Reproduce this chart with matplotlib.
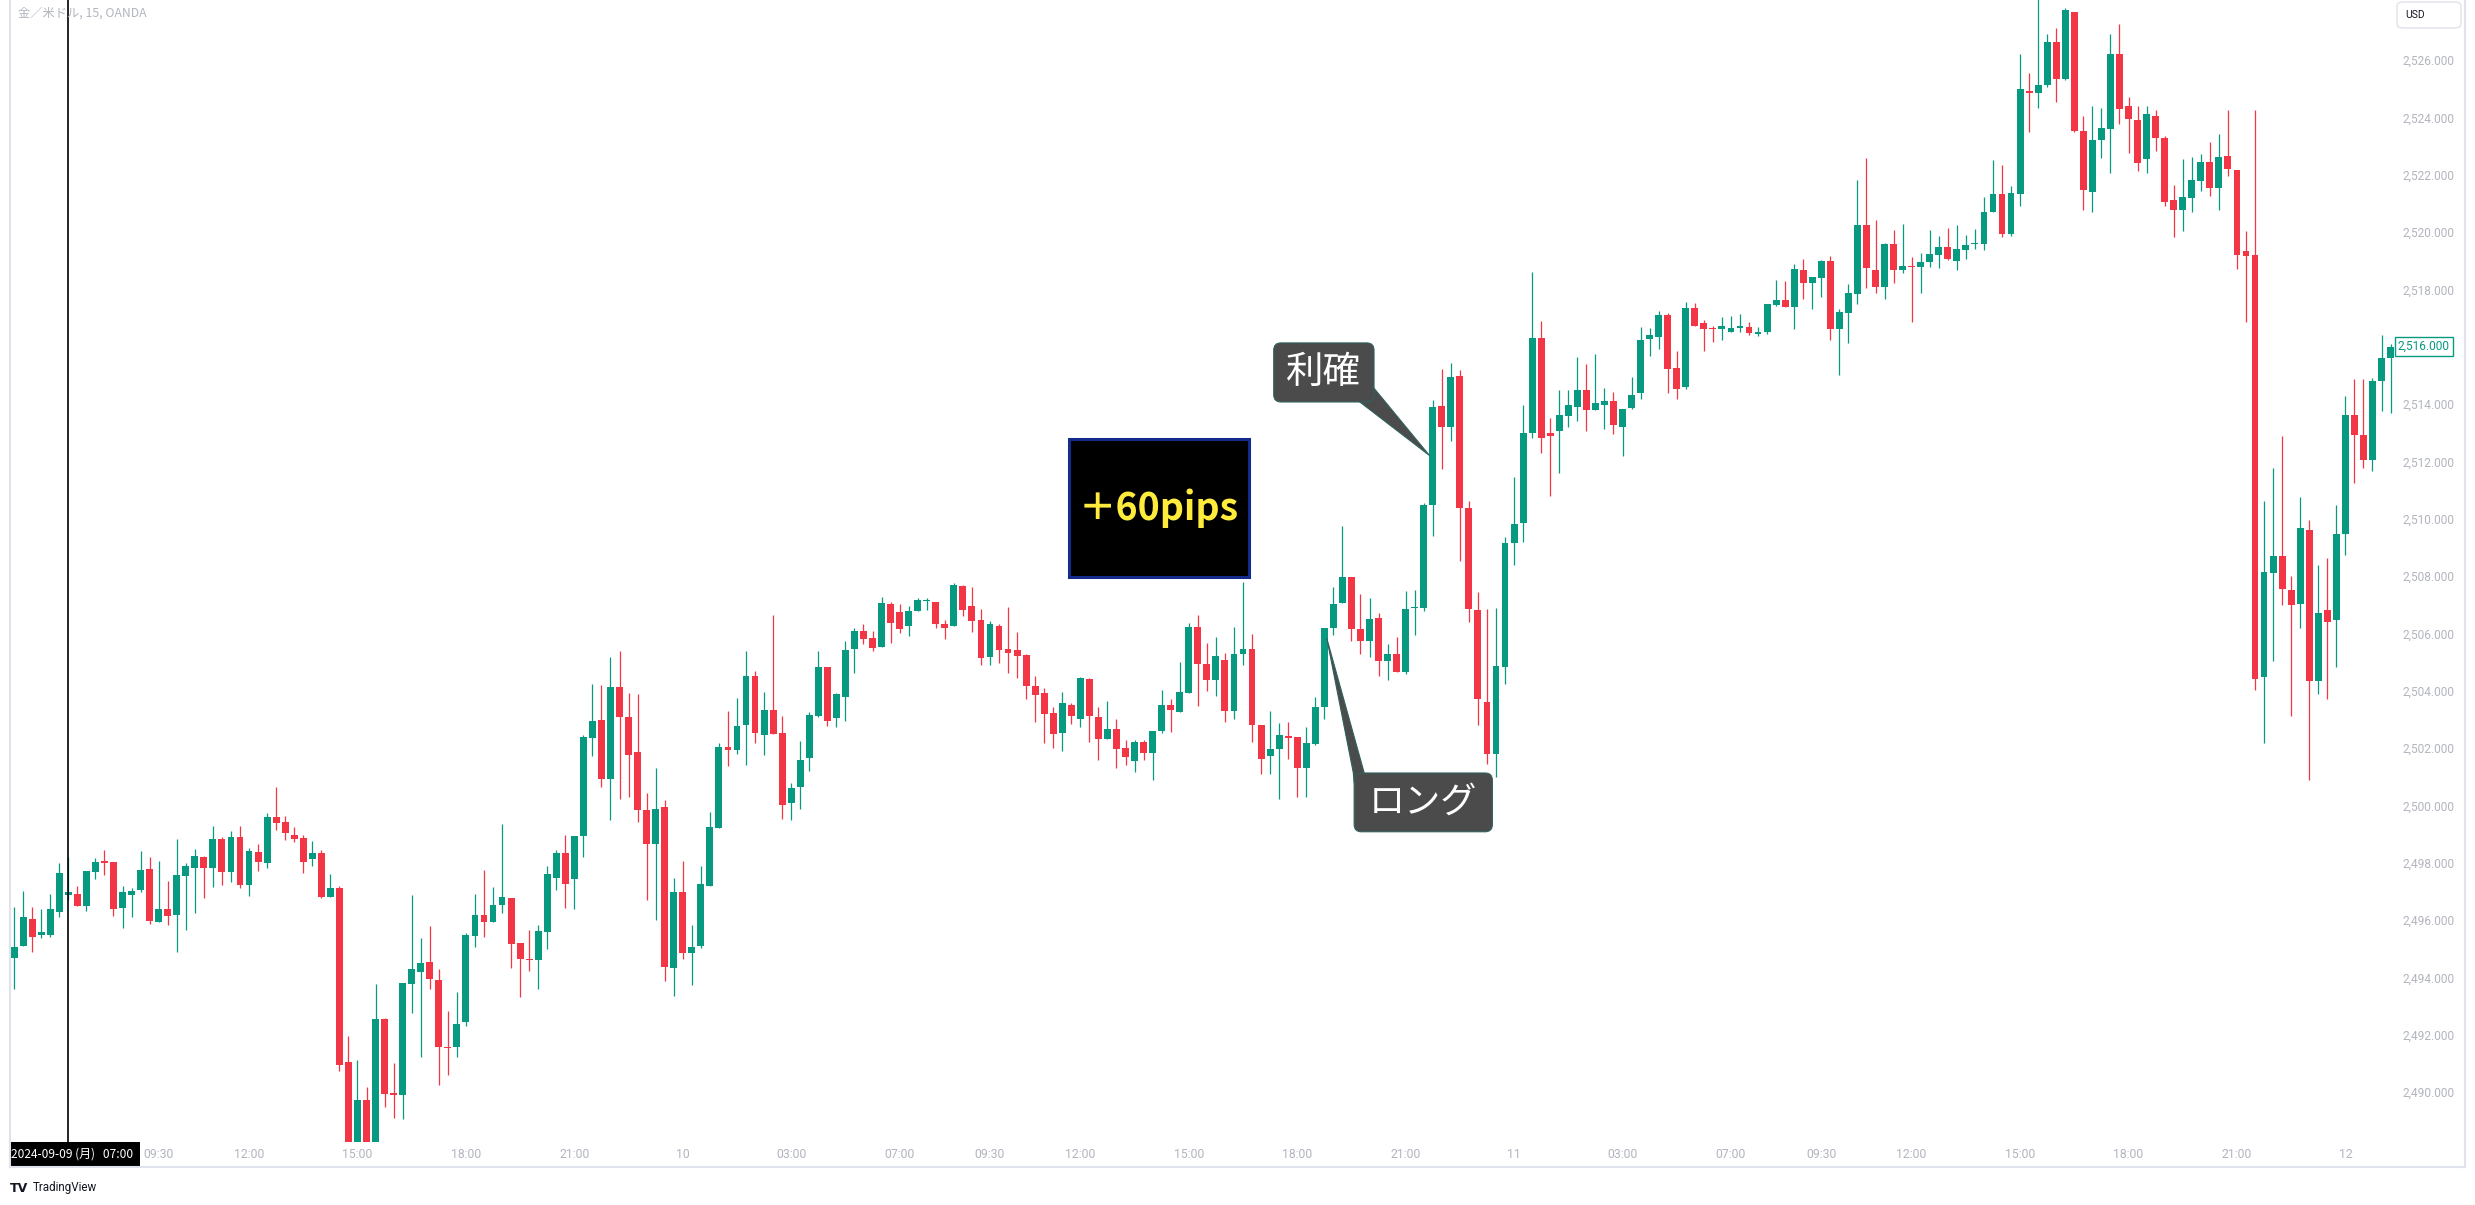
import numpy as np
import matplotlib.pyplot as plt
from matplotlib.patches import FancyBboxPatch, Polygon, Rectangle
from matplotlib.lines import Line2D
from matplotlib.ticker import FuncFormatter
from matplotlib.transforms import blended_transform_factory

# XAUUSD 15m, OANDA -- one row per candle: open, high, low, close
ohlc = [
    (2494.67, 2496.47, 2493.59, 2495.07), (2495.11, 2497.03, 2495.11, 2496.09), (2496.05, 2496.44, 2494.90, 2495.40),
    (2495.47, 2496.37, 2495.37, 2495.60), (2495.47, 2496.92, 2495.40, 2496.40), (2496.27, 2497.99, 2496.10, 2497.64),
    (2496.87, 2498.20, 2496.70, 2496.99), (2496.92, 2497.20, 2496.48, 2496.48), (2496.48, 2497.71, 2496.31, 2497.71),
    (2497.68, 2498.17, 2497.44, 2498.03), (2498.06, 2498.45, 2497.57, 2497.99), (2498.03, 2498.03, 2496.13, 2496.38),
    (2496.41, 2497.20, 2495.71, 2496.99), (2496.89, 2497.13, 2496.10, 2497.03), (2497.06, 2498.41, 2496.99, 2497.75),
    (2497.78, 2498.20, 2495.85, 2495.96), (2495.92, 2498.06, 2495.92, 2496.40), (2496.40, 2497.37, 2495.82, 2496.13),
    (2496.17, 2498.83, 2494.90, 2497.57), (2497.54, 2497.99, 2495.64, 2497.89), (2497.82, 2498.48, 2496.23, 2498.24),
    (2498.20, 2498.24, 2496.78, 2497.82), (2497.82, 2499.28, 2497.17, 2498.83), (2498.83, 2498.90, 2497.24, 2497.68),
    (2497.68, 2499.11, 2497.34, 2498.90), (2498.90, 2499.28, 2497.13, 2497.24), (2497.24, 2498.52, 2496.85, 2498.41),
    (2498.38, 2498.66, 2497.71, 2498.03), (2497.99, 2499.74, 2497.82, 2499.60), (2499.60, 2500.63, 2499.14, 2499.39),
    (2499.42, 2499.63, 2498.80, 2499.04), (2498.97, 2499.25, 2498.73, 2498.83), (2498.87, 2498.97, 2497.64, 2498.03),
    (2498.13, 2498.76, 2497.89, 2498.34), (2498.34, 2498.45, 2496.78, 2496.82), (2496.82, 2497.61, 2496.82, 2497.13),
    (2497.13, 2497.20, 2490.75, 2490.96), (2491.05, 2491.96, 2487.60, 2488.10), (2487.90, 2491.12, 2487.50, 2489.73),
    (2489.73, 2490.18, 2487.60, 2488.00), (2488.00, 2493.76, 2487.70, 2492.54), (2492.54, 2492.58, 2489.49, 2489.95),
    (2489.98, 2491.02, 2489.11, 2489.91), (2489.91, 2493.80, 2489.07, 2493.80), (2493.76, 2496.89, 2492.75, 2494.28),
    (2494.18, 2495.39, 2491.24, 2494.49), (2494.53, 2495.81, 2493.59, 2493.94), (2493.90, 2494.28, 2490.26, 2491.59),
    (2491.59, 2492.82, 2490.61, 2491.55), (2491.59, 2493.48, 2491.24, 2492.37), (2492.44, 2495.56, 2492.30, 2495.49),
    (2495.46, 2496.92, 2495.07, 2496.19), (2496.16, 2497.75, 2495.42, 2495.95), (2495.95, 2497.17, 2495.95, 2496.54),
    (2496.54, 2499.35, 2496.26, 2496.82), (2496.78, 2496.78, 2494.32, 2495.18), (2495.21, 2495.21, 2493.31, 2494.63),
    (2494.63, 2495.67, 2494.21, 2494.60), (2494.60, 2495.84, 2493.59, 2495.63), (2495.60, 2497.89, 2495.00, 2497.61),
    (2497.47, 2498.45, 2497.06, 2498.34), (2498.34, 2498.97, 2496.42, 2497.26), (2497.43, 2498.93, 2496.38, 2498.93),
    (2498.93, 2502.45, 2498.20, 2502.38), (2502.35, 2504.23, 2501.72, 2502.94), (2502.98, 2504.20, 2500.64, 2500.92),
    (2500.92, 2505.18, 2499.49, 2504.13), (2504.13, 2505.38, 2500.22, 2503.08), (2503.08, 2503.92, 2500.29, 2501.76),
    (2501.86, 2503.88, 2499.42, 2499.84), (2499.84, 2500.43, 2496.70, 2498.65), (2498.65, 2501.30, 2496.00, 2499.87),
    (2499.94, 2500.19, 2493.87, 2494.36), (2494.33, 2497.47, 2493.35, 2496.98), (2496.98, 2498.06, 2494.64, 2494.85),
    (2494.85, 2495.83, 2493.73, 2495.06), (2495.09, 2497.88, 2495.02, 2497.26), (2497.19, 2499.77, 2497.19, 2499.24),
    (2499.21, 2502.18, 2499.21, 2502.04), (2502.04, 2503.29, 2501.37, 2501.93), (2501.93, 2503.74, 2501.79, 2502.77),
    (2502.80, 2505.38, 2501.41, 2504.51), (2504.51, 2504.69, 2502.18, 2502.52), (2502.45, 2503.95, 2501.76, 2503.33),
    (2503.33, 2506.64, 2502.49, 2502.49), (2502.52, 2503.12, 2499.52, 2500.01), (2500.08, 2500.78, 2499.49, 2500.61),
    (2500.64, 2502.24, 2499.87, 2501.58), (2501.65, 2503.26, 2501.20, 2503.15), (2503.12, 2505.38, 2503.08, 2504.83),
    (2504.83, 2504.83, 2502.77, 2502.94), (2503.05, 2503.92, 2502.73, 2503.88), (2503.78, 2505.73, 2502.94, 2505.42),
    (2505.45, 2506.19, 2504.62, 2506.08), (2506.08, 2506.33, 2505.63, 2505.80), (2505.84, 2506.08, 2505.38, 2505.49),
    (2505.52, 2507.27, 2505.52, 2507.06), (2507.02, 2507.09, 2505.66, 2506.36), (2506.74, 2507.02, 2506.01, 2506.15),
    (2506.26, 2506.95, 2505.91, 2506.78), (2506.78, 2507.23, 2506.78, 2507.16), (2507.13, 2507.23, 2506.81, 2507.16),
    (2507.09, 2507.09, 2506.19, 2506.33), (2506.33, 2506.47, 2505.80, 2506.19), (2506.26, 2507.76, 2506.26, 2507.69),
    (2507.65, 2507.69, 2506.60, 2506.81), (2506.95, 2507.62, 2506.05, 2506.43), (2506.47, 2506.85, 2504.90, 2505.14),
    (2505.17, 2506.43, 2504.90, 2506.33), (2506.26, 2506.33, 2504.97, 2505.42), (2505.45, 2506.92, 2504.62, 2505.31),
    (2505.42, 2506.05, 2504.44, 2505.21), (2505.24, 2505.28, 2503.71, 2504.16), (2504.16, 2504.51, 2502.91, 2503.85),
    (2503.92, 2504.09, 2502.18, 2503.19), (2503.22, 2503.43, 2502.00, 2502.49), (2502.52, 2503.95, 2501.90, 2503.57),
    (2503.50, 2503.57, 2502.84, 2503.12), (2503.01, 2504.48, 2502.73, 2504.44), (2504.41, 2504.44, 2502.21, 2503.12),
    (2503.08, 2503.43, 2501.58, 2502.31), (2502.32, 2503.64, 2502.32, 2502.66), (2502.66, 2503.01, 2501.31, 2501.98),
    (2502.01, 2502.27, 2501.42, 2501.70), (2501.56, 2502.27, 2501.17, 2502.20), (2502.20, 2502.29, 2501.59, 2501.84),
    (2501.84, 2502.58, 2500.89, 2502.58), (2502.60, 2504.02, 2502.53, 2503.50), (2503.50, 2503.71, 2502.57, 2503.34),
    (2503.27, 2505.01, 2503.27, 2503.95), (2503.93, 2506.35, 2503.93, 2506.22), (2506.22, 2506.63, 2503.48, 2504.94),
    (2504.94, 2505.68, 2503.99, 2504.38), (2504.38, 2505.86, 2503.82, 2505.20), (2505.06, 2505.30, 2502.92, 2503.30),
    (2503.30, 2506.21, 2503.01, 2505.27), (2505.27, 2507.78, 2504.91, 2505.44), (2505.44, 2505.99, 2502.22, 2502.81),
    (2502.81, 2502.81, 2501.10, 2501.63), (2501.74, 2503.29, 2501.10, 2501.95), (2501.98, 2502.88, 2500.23, 2502.46),
    (2502.43, 2502.91, 2501.63, 2502.36), (2502.37, 2502.37, 2500.28, 2501.31), (2501.31, 2502.74, 2500.30, 2502.18),
    (2502.15, 2503.78, 2502.11, 2503.43), (2503.43, 2506.18, 2503.00, 2506.18), (2506.17, 2507.61, 2505.96, 2507.02),
    (2507.06, 2509.74, 2507.06, 2507.98), (2507.98, 2507.98, 2505.75, 2506.14), (2506.14, 2507.37, 2505.27, 2505.75),
    (2505.75, 2507.23, 2505.16, 2506.49), (2506.52, 2506.70, 2504.53, 2505.02), (2505.02, 2505.62, 2504.36, 2505.27),
    (2505.27, 2505.86, 2504.64, 2504.64), (2504.64, 2507.48, 2504.60, 2506.84), (2506.87, 2507.51, 2505.93, 2506.91),
    (2506.87, 2510.53, 2506.77, 2510.46), (2510.46, 2514.13, 2509.38, 2513.88), (2513.92, 2515.21, 2511.72, 2513.19),
    (2513.19, 2515.42, 2512.70, 2514.93), (2514.96, 2515.17, 2508.51, 2510.36), (2510.36, 2510.60, 2506.38, 2506.84),
    (2506.80, 2507.46, 2502.79, 2503.70), (2503.60, 2506.84, 2501.45, 2501.80), (2501.80, 2506.87, 2500.99, 2504.85),
    (2504.81, 2509.35, 2504.24, 2509.15), (2509.14, 2511.45, 2508.37, 2509.80), (2509.84, 2513.95, 2509.17, 2512.98),
    (2512.98, 2518.60, 2512.80, 2516.29), (2516.29, 2516.90, 2512.28, 2512.80), (2512.98, 2513.50, 2510.78, 2512.87),
    (2513.05, 2514.48, 2511.58, 2513.60), (2513.57, 2514.48, 2513.18, 2513.95), (2513.91, 2515.64, 2513.39, 2514.49),
    (2514.49, 2515.40, 2513.07, 2513.80), (2513.80, 2515.75, 2513.80, 2514.03), (2513.98, 2514.56, 2513.14, 2514.11),
    (2514.11, 2514.42, 2512.97, 2513.25), (2513.21, 2513.83, 2512.20, 2513.83), (2513.86, 2514.94, 2513.83, 2514.31),
    (2514.38, 2516.69, 2514.18, 2516.23), (2516.27, 2516.65, 2515.68, 2516.41), (2516.34, 2517.25, 2515.92, 2517.11),
    (2517.11, 2517.18, 2514.39, 2515.22), (2515.26, 2515.85, 2514.18, 2514.53), (2514.60, 2517.56, 2514.53, 2517.35),
    (2517.35, 2517.53, 2516.72, 2516.72), (2516.83, 2516.93, 2515.85, 2516.62), (2516.65, 2516.72, 2516.16, 2516.62),
    (2516.62, 2517.04, 2516.23, 2516.72), (2516.51, 2517.07, 2516.51, 2516.65), (2516.65, 2517.14, 2516.51, 2516.72),
    (2516.69, 2516.86, 2516.41, 2516.48), (2516.44, 2516.69, 2516.37, 2516.51), (2516.51, 2517.49, 2516.44, 2517.49),
    (2517.46, 2518.33, 2517.42, 2517.63), (2517.63, 2518.29, 2517.39, 2517.39), (2517.39, 2518.89, 2516.62, 2518.71),
    (2518.68, 2519.06, 2517.66, 2518.22), (2518.22, 2518.43, 2517.32, 2518.43), (2518.40, 2519.03, 2517.73, 2518.99),
    (2518.99, 2519.16, 2516.23, 2516.62), (2516.62, 2517.32, 2515.01, 2517.21), (2517.18, 2518.19, 2516.13, 2517.87),
    (2517.84, 2521.82, 2517.49, 2520.25), (2520.25, 2522.58, 2518.05, 2518.75), (2518.68, 2520.42, 2517.87, 2518.08),
    (2518.08, 2519.62, 2517.66, 2519.58), (2519.58, 2520.07, 2518.22, 2518.68), (2518.68, 2520.28, 2518.57, 2518.82),
    (2518.82, 2519.13, 2516.86, 2518.78), (2518.78, 2519.27, 2517.87, 2518.96), (2518.96, 2520.07, 2518.78, 2519.23),
    (2519.20, 2519.86, 2518.75, 2519.48), (2519.48, 2520.14, 2519.03, 2519.06), (2518.99, 2520.25, 2518.68, 2519.41),
    (2519.37, 2519.90, 2519.06, 2519.55), (2519.58, 2520.11, 2519.41, 2519.62), (2519.58, 2521.22, 2519.37, 2520.70),
    (2520.70, 2522.51, 2520.70, 2521.33), (2521.33, 2522.34, 2519.83, 2519.93), (2519.93, 2521.61, 2519.86, 2521.36),
    (2521.31, 2526.19, 2520.92, 2525.00), (2524.92, 2525.56, 2523.47, 2524.85), (2524.83, 2528.50, 2524.32, 2525.14),
    (2525.13, 2526.90, 2525.06, 2526.63), (2526.63, 2527.11, 2524.52, 2525.33), (2525.33, 2527.81, 2525.30, 2527.74),
    (2527.67, 2527.67, 2523.47, 2523.52), (2523.52, 2524.03, 2520.76, 2521.45), (2521.41, 2524.38, 2520.70, 2523.22),
    (2523.21, 2524.31, 2522.58, 2523.64), (2523.59, 2526.90, 2522.06, 2526.19), (2526.19, 2527.25, 2523.76, 2524.29),
    (2524.38, 2524.72, 2522.77, 2523.94), (2523.92, 2524.41, 2522.14, 2522.42), (2522.56, 2524.38, 2522.04, 2524.10),
    (2524.03, 2524.27, 2522.84, 2523.28), (2523.29, 2523.33, 2520.89, 2521.06), (2521.11, 2521.64, 2519.81, 2520.78),
    (2520.75, 2522.54, 2520.05, 2521.22), (2521.17, 2522.61, 2520.68, 2521.81), (2521.78, 2522.72, 2521.43, 2522.44),
    (2522.44, 2523.15, 2521.24, 2521.55), (2521.55, 2523.43, 2520.75, 2522.61), (2522.65, 2524.24, 2521.95, 2522.18),
    (2522.16, 2522.16, 2518.71, 2519.21), (2519.32, 2520.03, 2516.86, 2519.16), (2519.21, 2524.24, 2504.02, 2504.41),
    (2504.48, 2510.63, 2502.16, 2508.14), (2508.10, 2511.78, 2505.02, 2508.70), (2508.70, 2512.88, 2506.99, 2507.56),
    (2507.51, 2508.00, 2503.12, 2506.99), (2507.02, 2510.74, 2506.20, 2509.66), (2509.62, 2509.94, 2500.88, 2504.34),
    (2504.34, 2508.38, 2503.90, 2506.71), (2506.81, 2508.63, 2503.71, 2506.40), (2506.45, 2510.46, 2504.81, 2509.48),
    (2509.46, 2514.28, 2508.73, 2513.61), (2513.61, 2514.87, 2511.23, 2512.92), (2512.92, 2514.87, 2511.78, 2512.06),
    (2512.05, 2514.92, 2511.66, 2514.80), (2514.80, 2516.42, 2513.75, 2515.60), (2515.60, 2516.09, 2513.68, 2516.00),
]

opens = np.array([r[0] for r in ohlc])
highs = np.array([r[1] for r in ohlc])
lows = np.array([r[2] for r in ohlc])
closes = np.array([r[3] for r in ohlc])
bar_idx = np.arange(len(ohlc))

# time axis (bar index -> label); sessions break 06:00-07:00
time_ticks = [16, 26, 38, 50, 62, 74, 86, 98, 108, 118, 130, 142, 154, 166, 178, 190, 200, 210, 222, 234, 246, 258]
time_labels = ['09:30', '12:00', '15:00', '18:00', '21:00', '10', '03:00', '07:00', '09:30', '12:00', '15:00',
               '18:00', '21:00', '11', '03:00', '07:00', '09:30', '12:00', '15:00', '18:00', '21:00', '12']
price_ticks = [2490, 2492, 2494, 2496, 2498, 2500, 2502, 2504, 2506, 2508, 2510, 2512, 2514, 2518, 2520, 2522,
               2524, 2526]
cursor_bar = 6

UP = '#089981'
DOWN = '#f23645'
GREY = '#b2b5be'
JP = ['Noto Sans CJK JP', 'DejaVu Sans']

W, H = 2475, 1205


def fx(px):
    return px / W


def fy(py):
    return 1 - py / H


fig = plt.figure(figsize=(W / 100, H / 100), dpi=100)
ax = fig.add_axes([fx(10), fy(1142), fx(2384), 1142 / H])
ax.set_xlim(-0.454, 263.38)
ax.set_ylim(2488.26, 2528.09)

colors = np.where(closes >= opens, UP, DOWN)
ax.vlines(bar_idx, lows, highs, colors=colors, lw=0.9, zorder=2)
ax.bar(bar_idx, np.maximum(np.abs(closes - opens), 0.04), bottom=np.minimum(opens, closes), width=0.76,
       color=colors, linewidth=0, zorder=3)

ax.axvline(cursor_bar, color='black', lw=1.2, zorder=6)

for s in ax.spines.values():
    s.set_visible(False)
ax.yaxis.tick_right()
ax.set_yticks(price_ticks)
ax.yaxis.set_major_formatter(FuncFormatter(lambda v, p: f'{v:,.3f}'))
ax.set_xticks(time_ticks)
ax.set_xticklabels(time_labels)
ax.tick_params(axis='y', length=0, pad=6, labelsize=8.6, labelcolor=GREY)
ax.tick_params(axis='x', length=0, pad=4, labelsize=8.8, labelcolor=GREY)
for lab in ax.get_xticklabels() + ax.get_yticklabels():
    lab.set_fontfamily('Roboto')

# annotations
aspect = 9.036 / 28.67
callout = '#4b4b4b'
callout_edge = '#2f625e'

ax.add_patch(Rectangle((116.7, 2507.97), 20.0, 4.81, fc='black', ec='#142b8c', lw=2.2, zorder=7))
ax.text(126.7, 2510.35, '＋60pips', color='#ffeb3b', fontsize=27, fontweight='bold', family=JP,
        ha='center', va='center', zorder=8)

ax.add_patch(Polygon([(148.8, 2514.1), (150.5, 2514.55), (156.65, 2512.2)], closed=True,
                     fc=callout, ec=callout_edge, lw=0.8, zorder=7))
ax.add_patch(FancyBboxPatch((139.4, 2514.07), 11.1, 2.06, boxstyle='round,pad=0,rounding_size=0.8',
                            mutation_aspect=aspect, fc=callout, ec=callout_edge, lw=0.8, zorder=8))
ax.text(144.95, 2515.1, '利確', color='white', fontsize=27, family=JP, ha='center', va='center', zorder=9)

ax.add_patch(Polygon([(145.27, 2505.83), (149.4, 2501.15), (149.6, 2500.8), (148.3, 2500.8), (148.2, 2501.15)],
                     closed=True, fc=callout, ec=callout_edge, lw=0.8, zorder=7))
ax.add_patch(FancyBboxPatch((148.3, 2499.08), 15.3, 2.05, boxstyle='round,pad=0,rounding_size=0.8',
                            mutation_aspect=aspect, fc=callout, ec=callout_edge, lw=0.8, zorder=8))
ax.text(155.95, 2500.08, 'ロング', color='white', fontsize=26, family=JP, ha='center', va='center', zorder=9)

# chrome: frame, header, price tag, cursor date, logo
frame = '#e0e3eb'
fig.add_artist(Line2D([fx(10), fx(10)], [fy(0), fy(1167)], color=frame, lw=1.5))
fig.add_artist(Line2D([fx(10), fx(2465)], [fy(1167), fy(1167)], color=frame, lw=1.5))
fig.add_artist(Line2D([fx(2465), fx(2465)], [fy(0), fy(1167)], color=frame, lw=1.5))

fig.text(fx(18), fy(13), '金／米ドル, 15, OANDA', fontsize=8.8, color=GREY, family=JP, va='center')

fig.add_artist(FancyBboxPatch((fx(2397), fy(28)), fx(64), 26 / H, boxstyle='round,pad=0,rounding_size=0.003',
                              transform=fig.transFigure, fc='white', ec=frame, lw=1))
fig.text(fx(2405), fy(15), 'USD', fontsize=7.5, color='#131722', family='Roboto', va='center')

tag = blended_transform_factory(fig.transFigure, ax.transData)
fig.text(fx(2398), closes[-1], f'{closes[-1]:,.3f}', transform=tag, fontsize=8.6, color=UP, family='Roboto',
         va='center', ha='left',
         bbox=dict(boxstyle='square,pad=0.25', fc='white', ec=UP, lw=1))

fig.add_artist(Rectangle((fx(10), fy(1166)), fx(130), 24 / H, transform=fig.transFigure, fc='black', ec='none'))
fig.text(fx(11), fy(1154), '2024-09-09 (月)   07:00', fontsize=8.6, color='white', family=JP, va='center')

fig.text(fx(10), fy(1188), 'TV', fontsize=9, fontweight='heavy', color='#131722', va='center')
fig.text(fx(33), fy(1188), 'TradingView', fontsize=8.4, color='#131722', family='Roboto', va='center')

fig.savefig('out.png', dpi=100, facecolor='white')
